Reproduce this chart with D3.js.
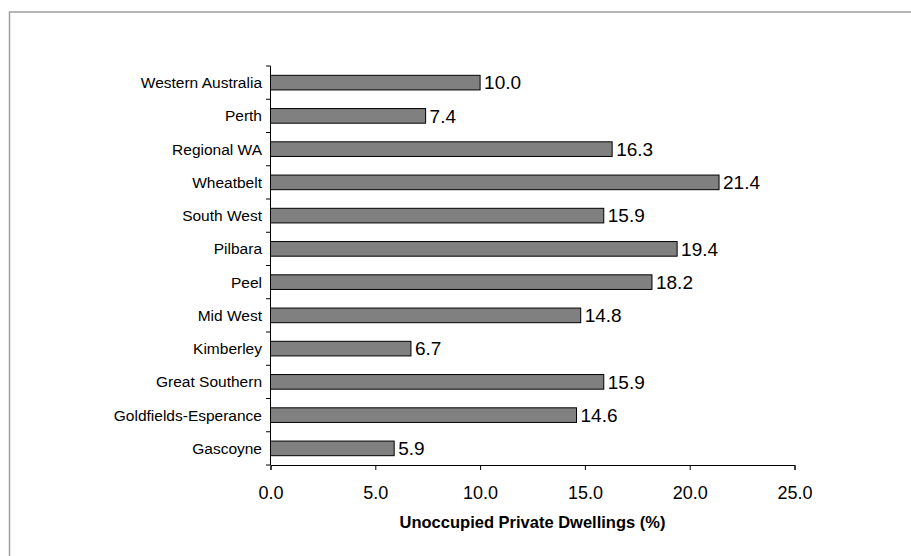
<!DOCTYPE html>
<html><head><meta charset="utf-8">
<script src="https://cdn.jsdelivr.net/npm/d3@7"></script>
<style>body{margin:0;background:#fff}svg{display:block}text{font-family:"Liberation Sans",Arial,sans-serif}</style>
</head><body><svg id="c" width="911" height="556"></svg>
<script>
const categories = ["Western Australia","Perth","Regional WA","Wheatbelt","South West","Pilbara","Peel","Mid West","Kimberley","Great Southern","Goldfields-Esperance","Gascoyne"];
const values = [10.0,7.4,16.3,21.4,15.9,19.4,18.2,14.8,6.7,15.9,14.6,5.9];
const xTicks = [0,5,10,15,20,25];
const xTitle = "Unoccupied Private Dwellings (%)";

const svg = d3.select("#c");
svg.append("path").attr("d","M9.5,556 L9.5,12 L911,12").attr("fill","none").attr("stroke","#a0a0a0").attr("stroke-width",1.5);

const x = d3.scaleLinear().domain([0,25]).range([270.5,794.5]);
const y = d3.scaleBand().domain(categories).range([66,465]).paddingInner(0.56).paddingOuter(0.28);
const yb = d3.scaleBand().domain(categories).range([66,465]);

// bars
svg.selectAll("rect.bar").data(categories).join("rect").attr("class","bar")
  .attr("x",x(0)).attr("y",d=>y(d)).attr("width",(d,i)=>x(values[i])-x(0)).attr("height",y.bandwidth())
  .attr("fill","#808080").attr("stroke","#000").attr("stroke-width",1);

// value labels
svg.selectAll("text.val").data(categories).join("text").attr("class","val")
  .attr("x",(d,i)=>x(values[i])+4).attr("y",d=>y(d)+y.bandwidth()/2).attr("dy","0.36em")
  .attr("font-size",19).attr("fill","#000").text((d,i)=>values[i].toFixed(1));

// y axis
const ya = svg.append("g");
ya.append("line").attr("x1",270.5).attr("x2",270.5).attr("y1",66).attr("y2",465).attr("stroke","#000");
const bounds = categories.map(c=>yb(c)).concat([465]);
ya.selectAll("line.t").data(bounds).join("line").attr("class","t")
  .attr("x1",266).attr("x2",270.5).attr("y1",d=>d).attr("y2",d=>d).attr("stroke","#000");
ya.selectAll("text").data(categories).join("text")
  .attr("x",262).attr("y",d=>yb(d)+yb.bandwidth()/2).attr("dy","0.36em").attr("text-anchor","end")
  .attr("font-size",15.5).text(d=>d);

// x axis
const xa = svg.append("g").attr("transform","translate(0,465)");
xa.call(d3.axisBottom(x).tickValues(xTicks).tickSize(5).tickFormat(d=>d.toFixed(1)));
xa.select(".domain").attr("stroke","#000");
xa.selectAll(".tick line").attr("stroke","#000");
xa.selectAll(".tick text").attr("font-size",18).attr("font-family","Liberation Sans, Arial, sans-serif").attr("fill","#000").attr("y",33.5).attr("dy",null);

svg.append("text").attr("x",x(12.5)).attr("y",528).attr("text-anchor","middle")
  .attr("font-size",16.5).attr("font-weight","bold").text(xTitle);
</script></body></html>
